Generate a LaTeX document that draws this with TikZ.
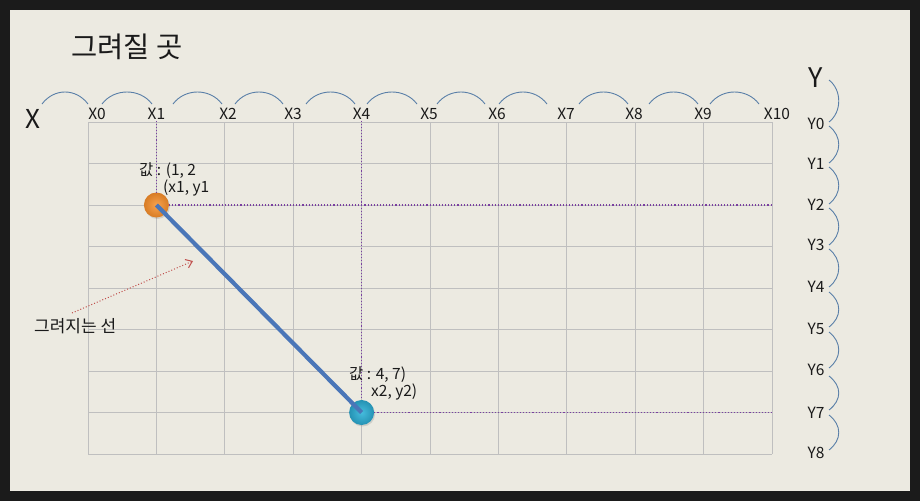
\documentclass[tikz,border=0pt]{standalone}
\usepackage{fontspec}
\setmainfont{Noto Sans CJK KR}
\usetikzlibrary{arrows.meta,shadows}
\definecolor{bgouter}{HTML}{1B1B1B}
\definecolor{bginner}{HTML}{ECEAE1}
\definecolor{gridgray}{HTML}{BFBFBF}
\definecolor{arcblue}{HTML}{5A7FA8}
\definecolor{guidepurple}{HTML}{7A3FA0}
\definecolor{lineblue}{HTML}{4A76B8}
\definecolor{arrowred}{HTML}{C0504D}
\definecolor{ballorange}{HTML}{F08A28}
\definecolor{ballorangelt}{HTML}{F7A24E}
\definecolor{ballcyan}{HTML}{2AA6CC}
\definecolor{ballcyanlt}{HTML}{45BCDD}
\definecolor{txt}{HTML}{1A1A1A}
\begin{document}
\begin{tikzpicture}[x=1pt,y=-1pt,
  lbl/.style={font=\fontsize{15.5}{17}\selectfont, inner sep=1pt, text=txt},
  vlbl/.style={font=\fontsize{15.5}{17}\selectfont, inner sep=0pt, anchor=west, text=txt},
  arcln/.style={draw=arcblue, line width=0.9pt},
  guide/.style={draw=guidepurple, dotted, line width=1.1pt},
  gridln/.style={draw=gridgray, line width=0.9pt},
  dot/.style={circle, minimum size=25pt, inner sep=0pt, shading=radial,
    drop shadow={opacity=0.25, shadow xshift=1pt, shadow yshift=-1.5pt}}]
\useasboundingbox (0,0) rectangle (920,501);
\fill[bgouter] (0,0) rectangle (920,501);
\fill[bginner] (10,10) rectangle (910,491);
% grid
\foreach \i in {0,...,10} \draw[gridln] ({88+68.4*\i},122) -- ({88+68.4*\i},454);
\foreach \j in {0,...,8} \draw[gridln] (88,{122+41.5*\j}) -- (772,{122+41.5*\j});
% title and axis names
\node[font=\fontsize{28.5}{32}\selectfont, anchor=west, inner sep=0pt, text=txt] (title) at (71,47) {그려질 곳};
\node[font=\fontsize{26}{28}\selectfont, inner sep=0pt, text=txt] (bigX) at (33,119) {X};
\node[font=\fontsize{27}{29}\selectfont, inner sep=0pt, text=txt] (bigY) at (816,78) {Y};
% x labels
\foreach \n/\x in {0/97,1/156.4,2/228,3/293,4/361.6,5/429,6/497,7/566,8/634,9/703,10/777}
  \node[lbl] (X\n) at (\x,114) {X\n};
% y labels
\foreach \n/\y in {0/124,1/164,2/205,3/245,4/287,5/329,6/370,7/413,8/453}
  \node[lbl] (Y\n) at (816,\y) {Y\n};
% top arcs
\foreach \a/\b in {42/88,102/152,173/222,235/283,306/355,367/417,437/485,499/547,579/628,649/698,710/759}
  \draw[arcln] (\a,104) .. controls ({\a+12},88) and ({\b-12},88) .. (\b,104);
% right arcs
\foreach \a/\b in {80/122,126/163,167/204,208/245,249/287,292/327,332/368,376/410,415/450}
  \draw[arcln] (829,\a) .. controls (842,{\a+10}) and (842,{\b-10}) .. (829,\b);
% points
\node[dot, inner color=ballorangelt, outer color=ballorange!90!black] (p1) at (156.4,205) {};
\node[dot, inner color=ballcyanlt, outer color=ballcyan!88!black] (p2) at (361.6,412.5) {};
\coordinate (e1) at (773,205);
\coordinate (e2) at (773,412.5);
\draw[guide] (X1.south) -- (p1);
\draw[guide] (p1) -- (e1);
\draw[guide] (X4.south) -- (p2);
\draw[guide] (p2) -- (e2);
% drawn line
\draw[lineblue, line width=4.2pt] (p1.center) -- (p2.center);
% value labels
\node[vlbl] (v1a) at (139,171) {값 : (1, 2};
\node[vlbl] (v1b) at (163,187.5) {(x1, y1};
\node[vlbl] (v2a) at (349,375) {값 : 4, 7)};
\node[vlbl] (v2b) at (371,392) {x2, y2)};
% annotation
\node[font=\fontsize{17}{20}\selectfont, anchor=west, inner sep=0pt, text=txt] (ann) at (34,326) {그려지는 선};
\coordinate (a1) at (72,313);
\coordinate (a2) at (193,261);
\draw[arrowred, dotted, line width=1pt, -{Straight Barb[length=6pt,width=9pt,line width=1pt]}] (a1) -- (a2);
\end{tikzpicture}
\end{document}
